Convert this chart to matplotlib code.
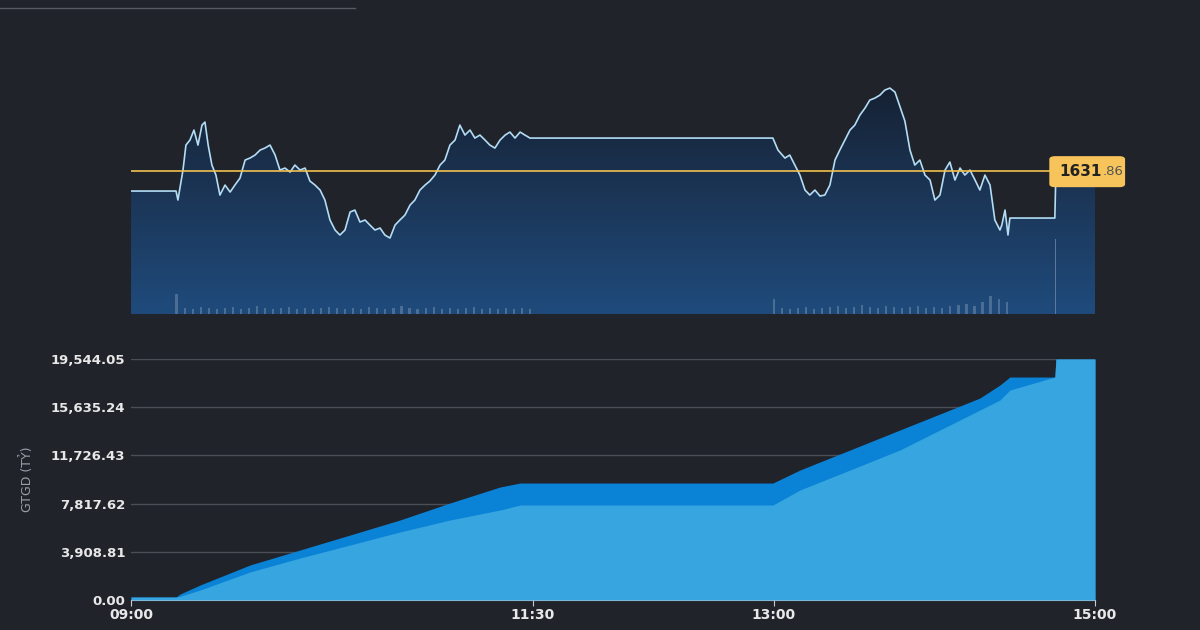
import numpy as np
import matplotlib
matplotlib.use("Agg")
import matplotlib.pyplot as plt
from matplotlib.patches import Polygon, FancyBboxPatch
from matplotlib.colors import LinearSegmentedColormap

BG = "#20232a"
# --- price (minutes after 09:00, index points) ---
p_t = [0,16.8,17.5,19.4,20.5,22,23.5,25,26.5,27.6,28.8,30.2,31.7,33.2,35.1,37,38.8,40.7,42.6,44.4,46.3,48.2,50,51.9,53.8,55.6,57.5,59.4,61.2,63.1,65,66.8,68.7,70.6,72.4,74.3,76.2,78,79.9,81.8,83.6,85.5,87.4,89.2,91.1,93,94.8,96.7,98.6,100.4,102.3,104.2,106,107.9,109.8,111.6,113.5,115.4,117.2,119.1,121,122.8,124.7,126.6,128.4,130.3,132.2,134,135.9,137.8,139.7,141.5,143.4,145.3,147.1,149,150.9,
       239.7,241.6,244.2,246,247.9,249.8,251.7,253.5,255.4,257.3,259.1,261,262.9,264.7,266.6,268.5,270.3,272.2,274.1,275.9,277.8,279.7,281.5,283.4,285.3,287.1,289,290.9,292.7,294.6,296.5,298.4,300.2,302.1,304,305.8,307.7,309.6,311.4,313.3,315.2,317,318.9,320.8,322.6,324.5,325.2,326.4,327.5,328.2,345,345.4,360]
p_v = [1629.9,1629.9,1629.0,1632.0,1634.5,1635.0,1636.0,1634.5,1636.5,1636.8,1634.5,1632.5,1631.5,1629.5,1630.5,1629.8,1630.5,1631.2,1633.0,1633.2,1633.5,1634.0,1634.2,1634.5,1633.5,1632.0,1632.2,1631.8,1632.5,1632.0,1632.2,1630.9,1630.5,1630.0,1629.0,1627.0,1626.0,1625.5,1626.0,1627.8,1628.0,1626.8,1627.0,1626.5,1626.0,1626.2,1625.5,1625.2,1626.5,1627.0,1627.5,1628.5,1629.0,1630.0,1630.5,1630.9,1631.5,1632.5,1633.0,1634.5,1635.0,1636.5,1635.5,1636.0,1635.2,1635.5,1635.0,1634.5,1634.2,1635.0,1635.5,1635.8,1635.2,1635.8,1635.5,1635.2,1635.2,
       1635.2,1634.0,1633.2,1633.5,1632.5,1631.5,1630.0,1629.5,1630.0,1629.4,1629.5,1630.5,1633.0,1634.0,1635.0,1636.0,1636.5,1637.5,1638.2,1639.0,1639.2,1639.5,1640.0,1640.2,1639.8,1638.4,1636.9,1634.0,1632.5,1633.0,1631.5,1631.0,1629.0,1629.5,1632.0,1632.8,1631.0,1632.2,1631.5,1632.0,1631.0,1630.0,1631.5,1630.5,1627.0,1626.0,1626.5,1628.0,1625.5,1627.2,1627.2,1631.86,1631.86]
ref_price = 1631.86
ref_int, ref_dec = "1631", ".86"

# --- volume (minutes, relative height) ---
v1_t = list(np.arange(17, 151, 3.0))
v1_h = [2.0,0.6,0.5,0.7,0.6,0.5,0.6,0.7,0.5,0.6,0.8,0.6,0.5,0.6,0.7,0.5,0.6,0.5,0.6,0.7,0.6,0.5,0.6,0.5,0.7,0.6,0.5,0.6,0.8,0.6,0.5,0.6,0.7,0.5,0.6,0.5,0.6,0.7,0.5,0.6,0.5,0.6,0.5,0.6,0.5]
v2_t = list(np.arange(240, 329, 3.0))
v2_h = [1.5,0.6,0.5,0.6,0.7,0.5,0.6,0.7,0.8,0.6,0.7,0.9,0.7,0.6,0.8,0.7,0.6,0.7,0.8,0.6,0.7,0.6,0.8,0.9,1.0,0.8,1.2,1.8,1.5,1.2]
spike_t, spike_h = 345.2, 7.5

# --- cumulative value (billion VND) ---
c_t = [0,16.8,18.3,25.8,44.4,63.1,81.8,100.4,119.1,137.8,145.3,149,239.7,249.8,268.5,287.1,305.8,317,324.5,328.2,345,345.4,360]
c_dark = [243,243,487,1217,2838,4055,5272,6488,7867,9164,9488,9488,9488,10543,12165,13787,15408,16381,17436,18085,18085,19544.05,19544.05]
c_light = [243,243,300,811,2271,3406,4460,5515,6488,7299,7704,7704,7704,8921,10543,12165,14192,15408,16219,17030,18085,19544.05,19544.05]
yticks = [0,3908.81,7817.62,11726.43,15635.24,19544.05]
xticks = [0,150,240,360]
xlabels = ["09:00","11:30","13:00","15:00"]

fig = plt.figure(figsize=(12,6.3), dpi=100, facecolor=BG)
ax1 = fig.add_axes([0.1092,0.5016,0.8033,0.403], facecolor=BG)
ymin, ymax = 1617.6, 1643.0
ax1.set_xlim(0,360); ax1.set_ylim(ymin,ymax)
grad = np.linspace(0,1,256).reshape(-1,1)
cm = LinearSegmentedColormap.from_list("g", ["#1f4b7c","#1b3454","#141c2a"])
im = ax1.imshow(grad, aspect="auto", cmap=cm, extent=[0,360,ymin,ymax], origin="lower", zorder=1)
poly = Polygon(list(zip(p_t,p_v)) + [(360,ymin),(0,ymin)], closed=True, transform=ax1.transData, facecolor="none", edgecolor="none")
ax1.add_patch(poly); im.set_clip_path(poly)
ax1.bar(v1_t, v1_h, width=0.8, bottom=ymin, color="#6b86a6", alpha=0.6, zorder=2)
ax1.bar(v2_t, v2_h, width=0.8, bottom=ymin, color="#6b86a6", alpha=0.6, zorder=2)
ax1.bar([spike_t],[spike_h], width=0.6, bottom=ymin, color="#6b86a6", alpha=0.8, zorder=2)
ax1.plot(p_t, p_v, color="#b3dcf5", lw=1.2, zorder=3)
ax1.axhline(ref_price, color="#f2c14e", lw=1.2, zorder=4)
for s in ax1.spines.values(): s.set_visible(False)
ax1.set_xticks([]); ax1.set_yticks([])

# price label box (figure coords)
fig.patches.append(FancyBboxPatch((0.875, 0.704), 0.062, 0.047, boxstyle="round,pad=0,rounding_size=0.004",
                                  transform=fig.transFigure, fc="#f7c45b", ec="#f7c45b", zorder=5))
fig.text(0.8825, 0.7285, ref_int, fontsize=11, fontweight="bold", color="#222", va="center", ha="left", zorder=6)
fig.text(0.9185, 0.727, ref_dec, fontsize=9.5, color="#555", va="center", ha="left", zorder=6)

ax2 = fig.add_axes([0.1092,0.0476,0.8033,0.3825], facecolor=BG)
ax2.set_xlim(0,360); ax2.set_ylim(0,19544.05)
for y in yticks:
    ax2.axhline(y, color="#4a4e57", lw=1, zorder=0)
ax2.fill_between(c_t, 0, c_dark, color="#0a82d6", lw=0, zorder=2)
ax2.fill_between(c_t, 0, c_light, color="#36a5e0", lw=0, zorder=3)
ax2.set_yticks(yticks)
ax2.set_yticklabels([f"{v:,.2f}" for v in yticks], color="#e8e8e8", fontsize=9.5, fontweight="bold")
ax2.set_xticks(xticks)
ax2.set_xticklabels(xlabels, color="#e8e8e8", fontsize=10, fontweight="bold")
ax2.tick_params(length=0, pad=4)
ax2.tick_params(axis="x", length=4, color="#cccccc", pad=2)
ax2.set_ylabel("GTGD (TỶ)", color="#9aa0a8", fontsize=9, labelpad=12)
for s in ax2.spines.values(): s.set_visible(False)
ax2.spines["bottom"].set_visible(True); ax2.spines["bottom"].set_color("#cccccc")

fig.add_artist(plt.Line2D([0,0.296],[0.987,0.987], color="#555a63", lw=1))
fig.savefig("out.png", dpi=100, facecolor=BG)
